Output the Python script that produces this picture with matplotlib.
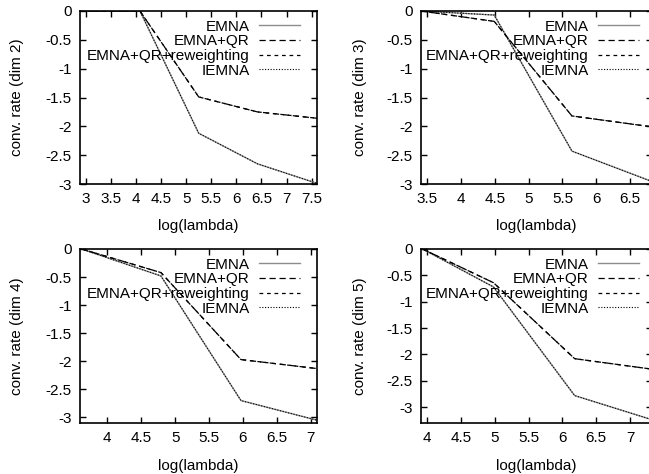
import numpy as np
import matplotlib
matplotlib.use("Agg")
import matplotlib.pyplot as plt

plt.rcParams['font.family'] = ['Liberation Sans', 'DejaVu Sans']
plt.rcParams['font.size'] = 11

# log(lambda) sample points for each dimension
x_dim2 = [2.89, 4.08, 5.25, 6.42, 7.61]
x_dim3 = [3.41, 4.49, 5.64, 6.83]
x_dim4 = [3.62, 4.79, 5.97, 7.09]
x_dim5 = [3.93, 4.98, 6.18, 7.33]

# convergence rates (EMNA ~ IEMNA, EMNA+QR ~ EMNA+QR+reweighting)
emna_dim2 = [0.0, 0.0, -2.12, -2.65, -2.99]
qr_dim2 = [0.0, 0.0, -1.49, -1.75, -1.86]
emna_dim3 = [0.0, -0.07, -2.43, -2.96]
qr_dim3 = [0.0, -0.18, -1.82, -2.01]
emna_dim4 = [0.0, -0.48, -2.70, -3.05]
qr_dim4 = [0.0, -0.42, -1.97, -2.13]
emna_dim5 = [0.0, -0.72, -2.78, -3.24]
qr_dim5 = [0.0, -0.64, -2.08, -2.28]

panels = [
    # x, emna, qr, dim, xlim, ylim, xticks, yticks, (left, right, top, bottom) px
    (x_dim2, emna_dim2, qr_dim2, 2, (2.886, 7.606), (-3.0, 0.0),
     np.arange(3, 7.51, 0.5), np.arange(-3, 0.01, 0.5), (80, 317, 11, 184)),
    (x_dim3, emna_dim3, qr_dim3, 3, (3.407, 6.824), (-3.0, 0.0),
     np.arange(3.5, 6.51, 0.5), np.arange(-3, 0.01, 0.5), (421, 652, 11, 184)),
    (x_dim4, emna_dim4, qr_dim4, 4, (3.597, 7.091), (-3.1, 0.0),
     np.arange(4, 7.01, 0.5), np.arange(-3, 0.01, 0.5), (80, 317, 249, 423)),
    (x_dim5, emna_dim5, qr_dim5, 5, (3.907, 7.324), (-3.3, 0.0),
     np.arange(4, 7.01, 0.5), np.arange(-3, 0.01, 0.5), (421, 652, 249, 423)),
]

W, H = 649, 474
fig = plt.figure(figsize=(W / 100, H / 100), dpi=100)

def fmt(v):
    s = ('%g' % round(v, 2))
    return '0' if s == '-0' else s

for x, emna, qr, dim, xlim, ylim, xt, yt, (l, r, t, b) in panels:
    ax = fig.add_axes([l / W, (H - b) / H, (r - l) / W, (b - t) / H])
    ax.plot(x, emna, color='#8c8c8c', lw=1.0, ls='-', label='EMNA')
    ax.plot(x, qr, color='black', lw=0.9, ls=(0, (5, 3)), label='EMNA+QR')
    ax.plot(x, qr, color='black', lw=0.9, ls=(0, (3, 3)), label='EMNA+QR+reweighting')
    ax.plot(x, emna, color='black', lw=0.8, ls=(0, (1, 1.5)), label='IEMNA')
    ax.set_xlim(*xlim)
    ax.set_ylim(*ylim)
    ax.set_xticks(xt)
    ax.set_xticklabels([fmt(v) for v in xt])
    ax.set_yticks(yt)
    ax.set_yticklabels([fmt(v) for v in yt])
    ax.tick_params(direction='in', length=4, width=1, top=True, right=True,
                   labelsize=11, pad=6)
    for s in ax.spines.values():
        s.set_linewidth(1.2)
    ax.set_xlabel('log(lambda)', fontsize=11)
    ax.set_ylabel('conv. rate (dim %d)' % dim, fontsize=11)
    ax.xaxis.set_label_coords(0.5, -0.205)
    ax.yaxis.set_label_coords(-0.235, 0.5)
    # legend offset from the right spine, in pixels
    off = 6 if l == 80 else 2
    leg = ax.legend(loc='upper right', frameon=False, markerfirst=False,
                    handlelength=2.7, handletextpad=0.6, labelspacing=0.04,
                    borderaxespad=0.3, fontsize=11,
                    bbox_to_anchor=(1 - off / (r - l), 1 + 2 / (b - t)))
    for txt in leg.get_texts():
        txt.set_ha('right')

fig.savefig('out.png', dpi=100)
